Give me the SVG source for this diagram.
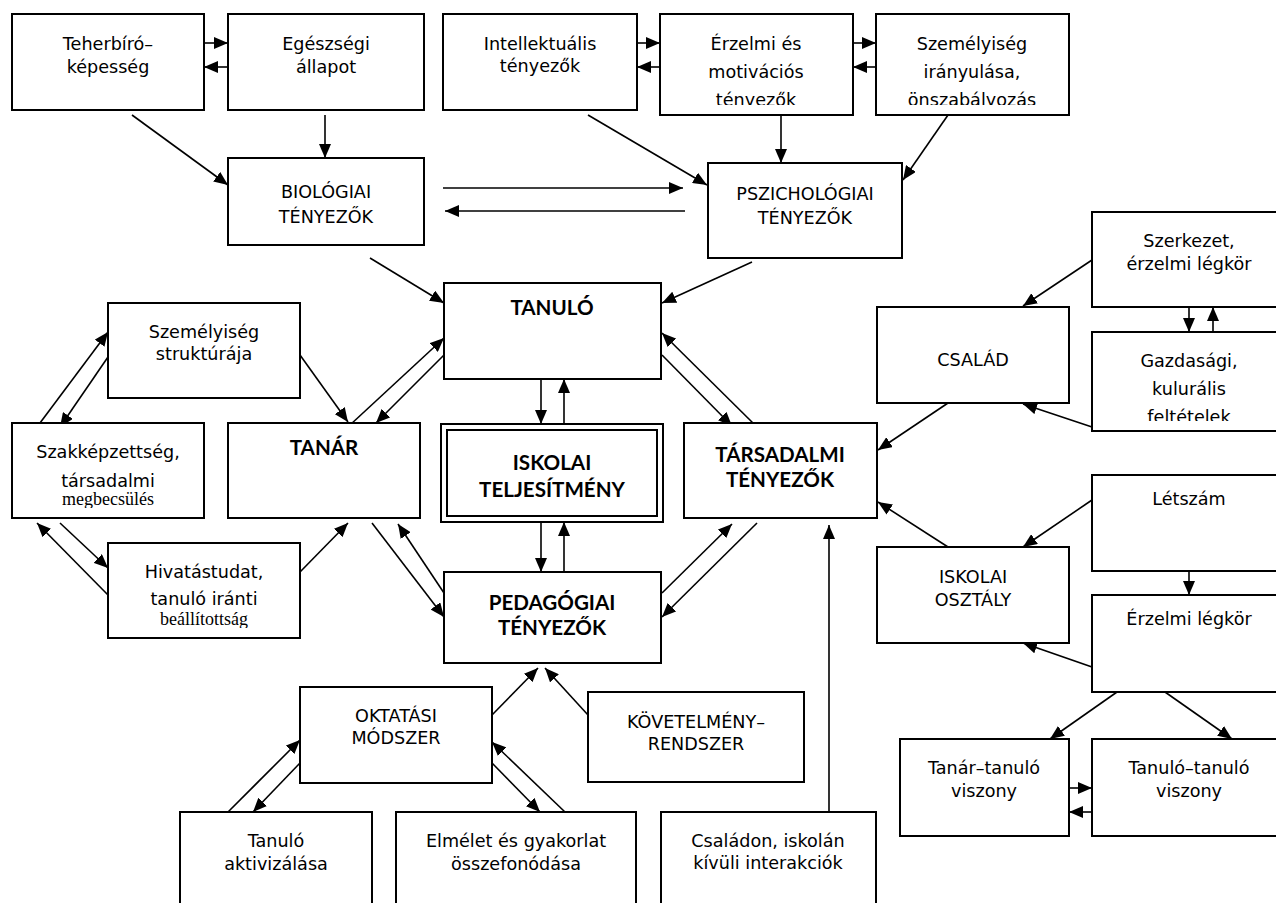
<svg xmlns="http://www.w3.org/2000/svg" width="1276" height="903" viewBox="0 0 1276 903">
  <style>
    .box { fill: #ffffff; stroke: #000000; stroke-width: 2; }
    .t { font-family: "DejaVu Sans", "Liberation Sans", sans-serif; font-size: 17.6px; fill: #000000; text-anchor: middle; }
    .s { font-family: "Liberation Serif", "DejaVu Serif", serif; font-size: 18px; fill: #000000; text-anchor: middle; }
    .b { font-family: Lato, "Open Sans", sans-serif; font-weight: 700; font-size: 20.6px; fill: #000000; text-anchor: middle; }
    .c line { stroke: #000000; stroke-width: 1.6; marker-end: url(#ah); }
  </style>
  <defs>
    <marker id="ah" markerUnits="userSpaceOnUse" markerWidth="14" markerHeight="12" refX="14" refY="6" orient="auto">
      <path d="M0,0 L14,6 L0,12 Z" fill="#000000"/>
    </marker>
    <clipPath id="clipErz"><rect x="660" y="14" width="193" height="91"/></clipPath>
    <clipPath id="clipIrany"><rect x="876" y="14" width="193" height="91"/></clipPath>
    <clipPath id="clipGazd"><rect x="1092" y="332" width="193" height="89"/></clipPath>
    <clipPath id="clipSzak"><rect x="12" y="423" width="192" height="85"/></clipPath>
    <clipPath id="clipHiv"><rect x="108" y="543" width="192" height="85"/></clipPath>
  </defs>
  <rect width="1276" height="903" fill="#ffffff"/>

  <!-- connectors -->
  <g id="connectors" class="c">
    <line x1="204" y1="43" x2="228" y2="43"/>
    <line x1="228" y1="67" x2="204" y2="67"/>
    <line x1="132" y1="115" x2="228" y2="185"/>
    <line x1="325" y1="115" x2="325" y2="158"/>
    <line x1="637" y1="43" x2="660" y2="43"/>
    <line x1="660" y1="67" x2="637" y2="67"/>
    <line x1="853" y1="43" x2="876" y2="43"/>
    <line x1="876" y1="67" x2="853" y2="67"/>
    <line x1="588" y1="115" x2="707" y2="185"/>
    <line x1="781" y1="115" x2="781" y2="163"/>
    <line x1="948" y1="115" x2="903" y2="180"/>
    <line x1="443" y1="188" x2="683" y2="188"/>
    <line x1="685" y1="211" x2="445" y2="211"/>
    <line x1="370" y1="258" x2="444" y2="303"/>
    <line x1="752" y1="262" x2="662" y2="303"/>
    <line x1="350" y1="425" x2="444" y2="338"/>
    <line x1="444" y1="355" x2="376" y2="423"/>
    <line x1="300" y1="355" x2="348" y2="422"/>
    <line x1="37" y1="427" x2="108" y2="332"/>
    <line x1="108" y1="357" x2="60" y2="427"/>
    <line x1="300" y1="572" x2="348" y2="523"/>
    <line x1="60" y1="523" x2="108" y2="568"/>
    <line x1="108" y1="595" x2="37" y2="523"/>
    <line x1="372" y1="523" x2="444" y2="617"/>
    <line x1="444" y1="593" x2="398" y2="524"/>
    <line x1="541" y1="379" x2="541" y2="424"/>
    <line x1="564" y1="424" x2="564" y2="379"/>
    <line x1="541" y1="522" x2="541" y2="572"/>
    <line x1="564" y1="572" x2="564" y2="522"/>
    <line x1="662" y1="355" x2="732" y2="426"/>
    <line x1="757" y1="427" x2="662" y2="333"/>
    <line x1="662" y1="593" x2="732" y2="524"/>
    <line x1="757" y1="523" x2="662" y2="617"/>
    <line x1="829" y1="812" x2="829" y2="525"/>
    <line x1="948" y1="403" x2="878" y2="450"/>
    <line x1="948" y1="547" x2="878" y2="502"/>
    <line x1="1092" y1="260" x2="1023" y2="306"/>
    <line x1="1092" y1="427" x2="1023" y2="404"/>
    <line x1="1189" y1="307" x2="1189" y2="332"/>
    <line x1="1213" y1="332" x2="1213" y2="307"/>
    <line x1="1092" y1="500" x2="1023" y2="547"/>
    <line x1="1189" y1="571" x2="1189" y2="595"/>
    <line x1="1092" y1="667" x2="1023" y2="643"/>
    <line x1="1117" y1="692" x2="1050" y2="739"/>
    <line x1="1165" y1="692" x2="1232" y2="739"/>
    <line x1="1069" y1="788" x2="1092" y2="788"/>
    <line x1="1092" y1="812" x2="1069" y2="812"/>
    <line x1="492" y1="715" x2="538" y2="668"/>
    <line x1="588" y1="715" x2="545" y2="668"/>
    <line x1="228" y1="812" x2="300" y2="740"/>
    <line x1="300" y1="763" x2="253" y2="812"/>
    <line x1="492" y1="763" x2="540" y2="812"/>
    <line x1="565" y1="812" x2="492" y2="742"/>
  </g>

  <!-- biological factors -->
  <g id="teherbiro">
    <rect class="box" x="12" y="14" width="192" height="96"/>
    <text class="t" x="108" y="50">Teherbíró–</text>
    <text class="t" x="108" y="73">képesség</text>
  </g>
  <g id="egeszsegi">
    <rect class="box" x="228" y="14" width="196" height="96"/>
    <text class="t" x="326" y="50">Egészségi</text>
    <text class="t" x="326" y="73">állapot</text>
  </g>
  <g id="biologiai">
    <rect class="box" x="228" y="158" width="196" height="87"/>
    <text class="t" x="326" y="198">BIOLÓGIAI</text>
    <text class="t" x="326" y="223">TÉNYEZŐK</text>
  </g>

  <!-- psychological factors -->
  <g id="intellektualis">
    <rect class="box" x="443" y="14" width="194" height="96"/>
    <text class="t" x="540" y="50">Intellektuális</text>
    <text class="t" x="540" y="72">tényezők</text>
  </g>
  <g id="erzelmi">
    <rect class="box" x="660" y="14" width="193" height="101"/>
    <g clip-path="url(#clipErz)">
      <text class="t" x="756" y="50">Érzelmi és</text>
      <text class="t" x="756" y="78">motivációs</text>
      <text class="t" x="756" y="106">tényezők</text>
    </g>
  </g>
  <g id="iranyultsag">
    <rect class="box" x="876" y="14" width="193" height="101"/>
    <g clip-path="url(#clipIrany)">
      <text class="t" x="972" y="50">Személyiség</text>
      <text class="t" x="972" y="78">irányulása,</text>
      <text class="t" x="972" y="106">önszabályozás</text>
    </g>
  </g>
  <g id="pszichologiai">
    <rect class="box" x="708" y="163" width="194" height="95"/>
    <text class="t" x="805" y="200">PSZICHOLÓGIAI</text>
    <text class="t" x="805" y="224">TÉNYEZŐK</text>
  </g>

  <!-- central nodes -->
  <g id="tanulo">
    <rect class="box" x="444" y="283" width="217" height="96"/>
    <text class="b" x="552" y="315">TANULÓ</text>
  </g>
  <g id="teljesitmeny">
    <rect class="box" x="441" y="424" width="222" height="98"/>
    <rect fill="none" stroke="#000000" stroke-width="2" x="447" y="430" width="210" height="86"/>
    <text class="b" x="552" y="470">ISKOLAI</text>
    <text class="b" x="552" y="497">TELJESÍTMÉNY</text>
  </g>
  <g id="tanar">
    <rect class="box" x="228" y="423" width="192" height="95"/>
    <text class="b" x="324" y="455">TANÁR</text>
  </g>
  <g id="tarsadalmi">
    <rect class="box" x="684" y="423" width="193" height="95"/>
    <text class="b" x="780" y="462">TÁRSADALMI</text>
    <text class="b" x="780" y="487">TÉNYEZŐK</text>
  </g>
  <g id="pedagogiai">
    <rect class="box" x="444" y="572" width="217" height="91"/>
    <text class="b" x="552" y="610">PEDAGÓGIAI</text>
    <text class="b" x="552" y="635">TÉNYEZŐK</text>
  </g>

  <!-- teacher factors -->
  <g id="szemelyiseg-struktura">
    <rect class="box" x="108" y="303" width="192" height="95"/>
    <text class="t" x="204" y="338">Személyiség</text>
    <text class="t" x="204" y="360">struktúrája</text>
  </g>
  <g id="szakkepzettseg">
    <rect class="box" x="12" y="423" width="192" height="95"/>
    <g clip-path="url(#clipSzak)">
      <text class="t" x="108" y="458">Szakképzettség,</text>
      <text class="t" x="108" y="487">társadalmi</text>
      <text class="s" x="108" y="505">megbecsülés</text>
    </g>
  </g>
  <g id="hivatastudat">
    <rect class="box" x="108" y="543" width="192" height="95"/>
    <g clip-path="url(#clipHiv)">
      <text class="t" x="204" y="578">Hivatástudat,</text>
      <text class="t" x="204" y="605">tanuló iránti</text>
      <text class="s" x="204" y="625">beállítottság</text>
    </g>
  </g>

  <!-- family -->
  <g id="szerkezet">
    <rect class="box" x="1092" y="212" width="193" height="95"/>
    <text class="t" x="1189" y="247">Szerkezet,</text>
    <text class="t" x="1189" y="270">érzelmi légkör</text>
  </g>
  <g id="csalad">
    <rect class="box" x="877" y="307" width="192" height="96"/>
    <text class="t" x="973" y="366">CSALÁD</text>
  </g>
  <g id="gazdasagi">
    <rect class="box" x="1092" y="332" width="193" height="99"/>
    <g clip-path="url(#clipGazd)">
      <text class="t" x="1189" y="367">Gazdasági,</text>
      <text class="t" x="1189" y="395">kulurális</text>
      <text class="t" x="1189" y="423">feltételek</text>
    </g>
  </g>

  <!-- school class -->
  <g id="letszam">
    <rect class="box" x="1092" y="475" width="193" height="96"/>
    <text class="t" x="1189" y="505">Létszám</text>
  </g>
  <g id="iskolai-osztaly">
    <rect class="box" x="877" y="547" width="192" height="96"/>
    <text class="t" x="973" y="583">ISKOLAI</text>
    <text class="t" x="973" y="606">OSZTÁLY</text>
  </g>
  <g id="erzelmi-legkor">
    <rect class="box" x="1092" y="595" width="193" height="97"/>
    <text class="t" x="1189" y="625">Érzelmi légkör</text>
  </g>
  <g id="tanar-tanulo">
    <rect class="box" x="900" y="739" width="169" height="97"/>
    <text class="t" x="984" y="774">Tanár–tanuló</text>
    <text class="t" x="984" y="797">viszony</text>
  </g>
  <g id="tanulo-tanulo">
    <rect class="box" x="1092" y="739" width="193" height="97"/>
    <text class="t" x="1189" y="774">Tanuló–tanuló</text>
    <text class="t" x="1189" y="797">viszony</text>
  </g>

  <!-- pedagogical factors -->
  <g id="oktatasi-modszer">
    <rect class="box" x="300" y="687" width="192" height="96"/>
    <text class="t" x="396" y="722">OKTATÁSI</text>
    <text class="t" x="396" y="744">MÓDSZER</text>
  </g>
  <g id="kovetelmeny">
    <rect class="box" x="588" y="692" width="216" height="90"/>
    <text class="t" x="696" y="728">KÖVETELMÉNY–</text>
    <text class="t" x="696" y="750">RENDSZER</text>
  </g>
  <g id="aktivizalas">
    <rect class="box" x="180" y="812" width="192" height="96"/>
    <text class="t" x="276" y="847">Tanuló</text>
    <text class="t" x="276" y="870">aktivizálása</text>
  </g>
  <g id="elmelet-gyakorlat">
    <rect class="box" x="396" y="812" width="240" height="96"/>
    <text class="t" x="516" y="847">Elmélet és gyakorlat</text>
    <text class="t" x="516" y="870">összefonódása</text>
  </g>
  <g id="interakciok">
    <rect class="box" x="661" y="812" width="215" height="96"/>
    <text class="t" x="768" y="847">Családon, iskolán</text>
    <text class="t" x="768" y="869">kívüli interakciók</text>
  </g>
</svg>
